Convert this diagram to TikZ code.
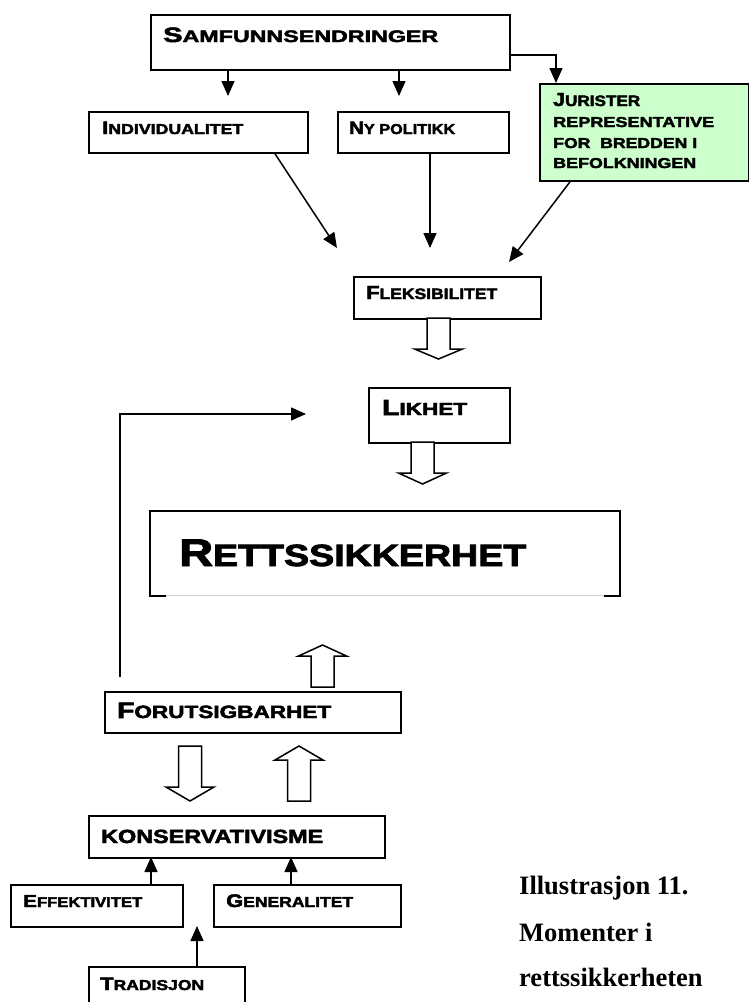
\documentclass[tikz,border=0pt]{standalone}
\usepackage{fontspec}
\usepackage{graphicx}
\usetikzlibrary{arrows.meta,calc}
\newfontfamily\cpf[BoldFeatures={FakeBold=2.5}]{Liberation Sans}
\newfontfamily\capf{Liberation Serif}
\definecolor{juristgreen}{HTML}{CCFFCC}
\newcommand\BG[1]{{\fontsize{10}{12}\selectfont #1}}
\newcommand\SM[1]{{\fontsize{8}{9}\selectfont #1}}
\newcommand\cpt[3]{\resizebox{#1pt}{#2pt}{\cpf\bfseries #3}}
\newcommand\blockarrow[4]{\draw[blk] ({#1-11.5},#2) -- ({#1-11.5},#3) -- ({#1-24},#3) -- (#1,#4) -- ({#1+24},#3) -- ({#1+11.5},#3) -- ({#1+11.5},#2) -- cycle;}
\tikzset{
  box/.style={draw, line width=1.8pt, rectangle, inner sep=0pt, anchor=north west, fill=white},
  txt/.style={inner sep=0pt, anchor=base west},
  arr/.style={line width=1.5pt, -{Triangle[width=13pt,length=15pt]}},
  blk/.style={line width=1.5pt, fill=white, line join=miter},
  captxt/.style={inner sep=0pt, anchor=base west, font=\capf\bfseries\fontsize{26.5}{30}\selectfont}
}
\begin{document}
\begin{tikzpicture}[x=1pt,y=-1pt]
\clip (0,0) rectangle (749,1002);
\fill[white] (0,0) rectangle (749,1002);

% boxes
\node[box, minimum width=359pt, minimum height=55pt] (samf) at (150,14) {};
\node[box, minimum width=219pt, minimum height=41pt] (indiv) at (88,111) {};
\node[box, minimum width=171pt, minimum height=41pt] (ny) at (337,111) {};
\node[box, fill=juristgreen, minimum width=209pt, minimum height=97pt] (green) at (539,83) {};
\node[box, minimum width=187pt, minimum height=42pt] (flex) at (353,276) {};
\node[box, minimum width=141pt, minimum height=55pt] (likhet) at (368,387) {};
\node[box, draw=none, minimum width=468pt, minimum height=83pt] (rett) at (150,511) {};
\node[box, minimum width=296pt, minimum height=41pt] (forut) at (104,691) {};
\node[box, minimum width=296pt, minimum height=42pt] (konserv) at (88,815) {};
\node[box, minimum width=172pt, minimum height=42pt] (effekt) at (10,884) {};
\node[box, minimum width=187pt, minimum height=42pt] (general) at (213,884) {};
\node[box, minimum width=156pt, minimum height=50pt] (trad) at (88,966) {};

% Rettssikkerhet frame (bottom edge only at the corners)
\draw[line width=1.8pt] ($(rett.south west)+(16,0)$) -- (rett.south west) -- (rett.north west) -- (rett.north east) -- (rett.south east) -- ($(rett.south east)+(-16,0)$);
\draw[gray!35, line width=0.8pt] ($(rett.south west)+(16,0)$) -- ($(rett.south east)+(-16,0)$);

% texts
\node[txt] (samf-t) at (163,42) {\cpt{275}{14.5}{\BG{S}\SM{AMFUNNSENDRINGER}}};
\node[txt] (indiv-t) at (102,134) {\cpt{141}{12.3}{\BG{I}\SM{NDIVIDUALITET}}};
\node[txt] (ny-t) at (349,134) {\cpt{106}{12.3}{\BG{N}\SM{Y POLITIKK}}};
\node[txt] (green-t1) at (553,106) {\cpt{87}{13}{\BG{J}\SM{URISTER}}};
\node[txt] (green-t2) at (553,127) {\cpt{161}{10}{\SM{REPRESENTATIVE}}};
\node[txt] (green-t3) at (553,148) {\cpt{144}{10}{\SM{FOR~~BREDDEN I}}};
\node[txt] (green-t4) at (553,168) {\cpt{143}{10}{\SM{BEFOLKNINGEN}}};
\node[txt] (flex-t) at (366,299) {\cpt{131}{13}{\BG{F}\SM{LEKSIBILITET}}};
\node[txt] (likhet-t) at (382,415) {\cpt{85}{15}{\BG{L}\SM{IKHET}}};
\node[txt] (rett-t) at (179,566) {\cpt{347}{26.4}{\BG{R}\SM{ETTSSIKKERHET}}};
\node[txt] (forut-t) at (117,718) {\cpt{214}{15.3}{\BG{F}\SM{ORUTSIGBARHET}}};
\node[txt] (konserv-t) at (101,843) {\cpt{222}{13.3}{\SM{KONSERVATIVISME}}};
\node[txt] (effekt-t) at (23,907) {\cpt{119}{12}{\BG{E}\SM{FFEKTIVITET}}};
\node[txt] (general-t) at (226,907) {\cpt{127}{12.7}{\BG{G}\SM{ENERALITET}}};
\node[txt] (trad-t) at (100,990) {\cpt{104}{12.3}{\BG{T}\SM{RADISJON}}};

% caption
\node[captxt] (cap1) at (519,894) {Illustrasjon 11.};
\node[captxt] (cap2) at (519,941) {Momenter i};
\node[captxt] (cap3) at (519,986) {rettssikkerheten};

% connector end points
\coordinate (a1) at (228,96);
\coordinate (a2) at (399,96);
\coordinate (g1) at (556,55);
\coordinate (f1) at (337,248);
\coordinate (f2) at (430,248);
\coordinate (f3) at (509,262);
\coordinate (fb0) at (120,677);
\coordinate (fb1) at (306,414);
\coordinate (k1) at (151,857);
\coordinate (k2) at (291,857);
\coordinate (t1) at (197,926);

% connectors
\draw[arr] (samf.south -| a1) -- (a1);
\draw[arr] (samf.south -| a2) -- (a2);
\draw[arr] (samf.east |- g1) -| (green.north -| g1);
\draw[arr] (indiv.south -| 275,0) -- (f1);
\draw[arr] (ny.south -| f2) -- (f2);
\draw[arr] (green.south -| 570,0) -- (f3);
\draw[arr] (fb0) |- (fb1);
\draw[arr] (effekt.north -| k1) -- (k1);
\draw[arr] (general.north -| k2) -- (k2);
\draw[arr] (trad.north -| t1) -- (t1);

% block arrows
\blockarrow{438.5}{318}{349}{359}
\blockarrow{422.5}{442}{473}{484}
\blockarrow{322.5}{687}{656}{645}
\blockarrow{190}{746}{787}{801}
\blockarrow{299}{801}{760}{746}
\end{tikzpicture}
\end{document}
